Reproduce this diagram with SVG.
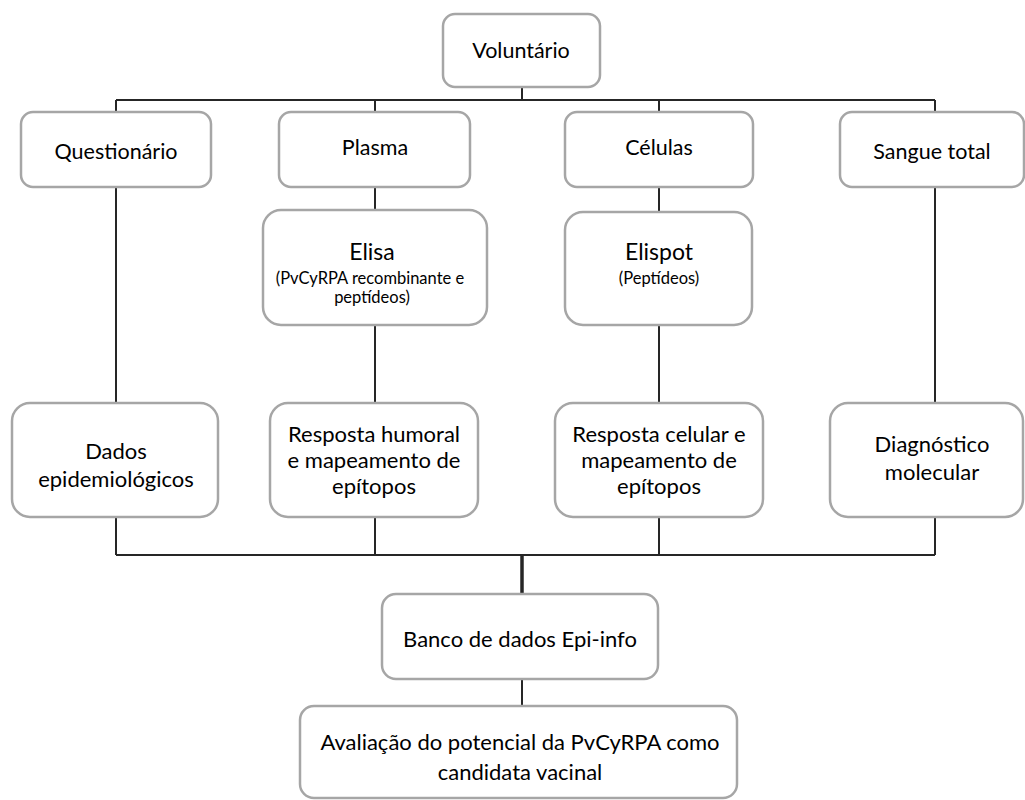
<svg xmlns="http://www.w3.org/2000/svg" width="1025" height="800" viewBox="0 0 1025 800">
<style>
.box{fill:#fff;stroke:#a6a6a6;stroke-width:2.5}
.t{font-family:Lato,"Open Sans",sans-serif;font-size:21.5px;fill:#000;text-anchor:middle}
.b{font-size:22px}
.s{font-size:16.5px}
.c{stroke:#262626;stroke-width:2;fill:none}
</style>
<rect width="1025" height="800" fill="#fff"/>
<g id="connectors">
<path class="c" d="M522 87V100M116 100H935M116 100V112M375 100V112M659 100V112M935 100V112"/>
<path class="c" d="M116 187V403M375 187V210M375 325V403M659 187V212M659 325V403M935 187V403"/>
<path class="c" d="M116 517V555M375 517V555M659 517V555M935 517V555M116 555H935"/>
<path class="c" style="stroke-width:3.5" d="M522 555V594"/>
<path class="c" d="M522 679V706"/>
</g>
<g id="voluntario"><rect class="box" x="443" y="14" width="157" height="73" rx="12"/><text class="t" x="521" y="58">Voluntário</text></g>
<g id="questionario"><rect class="box" x="21" y="112" width="190" height="75" rx="12"/><text class="t" x="116" y="159">Questionário</text></g>
<g id="plasma"><rect class="box" x="279" y="112" width="191" height="75" rx="12"/><text class="t" x="375" y="155">Plasma</text></g>
<g id="celulas"><rect class="box" x="565" y="112" width="188" height="75" rx="12"/><text class="t" x="659" y="155">Células</text></g>
<g id="sangue"><rect class="box" x="840" y="112" width="184" height="75" rx="12"/><text class="t" x="932" y="159">Sangue total</text></g>
<g id="elisa"><rect class="box" x="263" y="210" width="224" height="115" rx="18"/><text class="t" x="372" y="260" style="font-size:23px">Elisa</text><text class="t s" x="370" y="284">(PvCyRPA recombinante e</text><text class="t s" x="372" y="303">peptídeos)</text></g>
<g id="elispot"><rect class="box" x="565" y="212" width="187" height="113" rx="18"/><text class="t" x="659" y="260" style="font-size:23px">Elispot</text><text class="t s" x="659" y="284">(Peptídeos)</text></g>
<g id="dados"><rect class="box" x="12" y="403" width="206" height="114" rx="18"/><text class="t b" x="116" y="459">Dados</text><text class="t b" x="116" y="487">epidemiológicos</text></g>
<g id="humoral"><rect class="box" x="270" y="403" width="208" height="114" rx="18"/><text class="t b" x="374" y="442">Resposta humoral</text><text class="t b" x="374" y="468">e mapeamento de</text><text class="t b" x="374" y="494">epítopos</text></g>
<g id="celular"><rect class="box" x="555" y="403" width="208" height="114" rx="18"/><text class="t b" x="659" y="442">Resposta celular e</text><text class="t b" x="659" y="468">mapeamento de</text><text class="t b" x="659" y="494">epítopos</text></g>
<g id="diagnostico"><rect class="box" x="830" y="403" width="193" height="114" rx="18"/><text class="t b" x="932" y="452">Diagnóstico</text><text class="t b" x="932" y="480">molecular</text></g>
<g id="banco"><rect class="box" x="382" y="594" width="276" height="85" rx="14"/><text class="t b" x="520" y="647">Banco de dados Epi-info</text></g>
<g id="avaliacao"><rect class="box" x="300" y="706" width="437" height="92" rx="14"/><text class="t b" x="520" y="750">Avaliação do potencial da PvCyRPA como</text><text class="t b" x="520" y="780">candidata vacinal</text></g>
</svg>
